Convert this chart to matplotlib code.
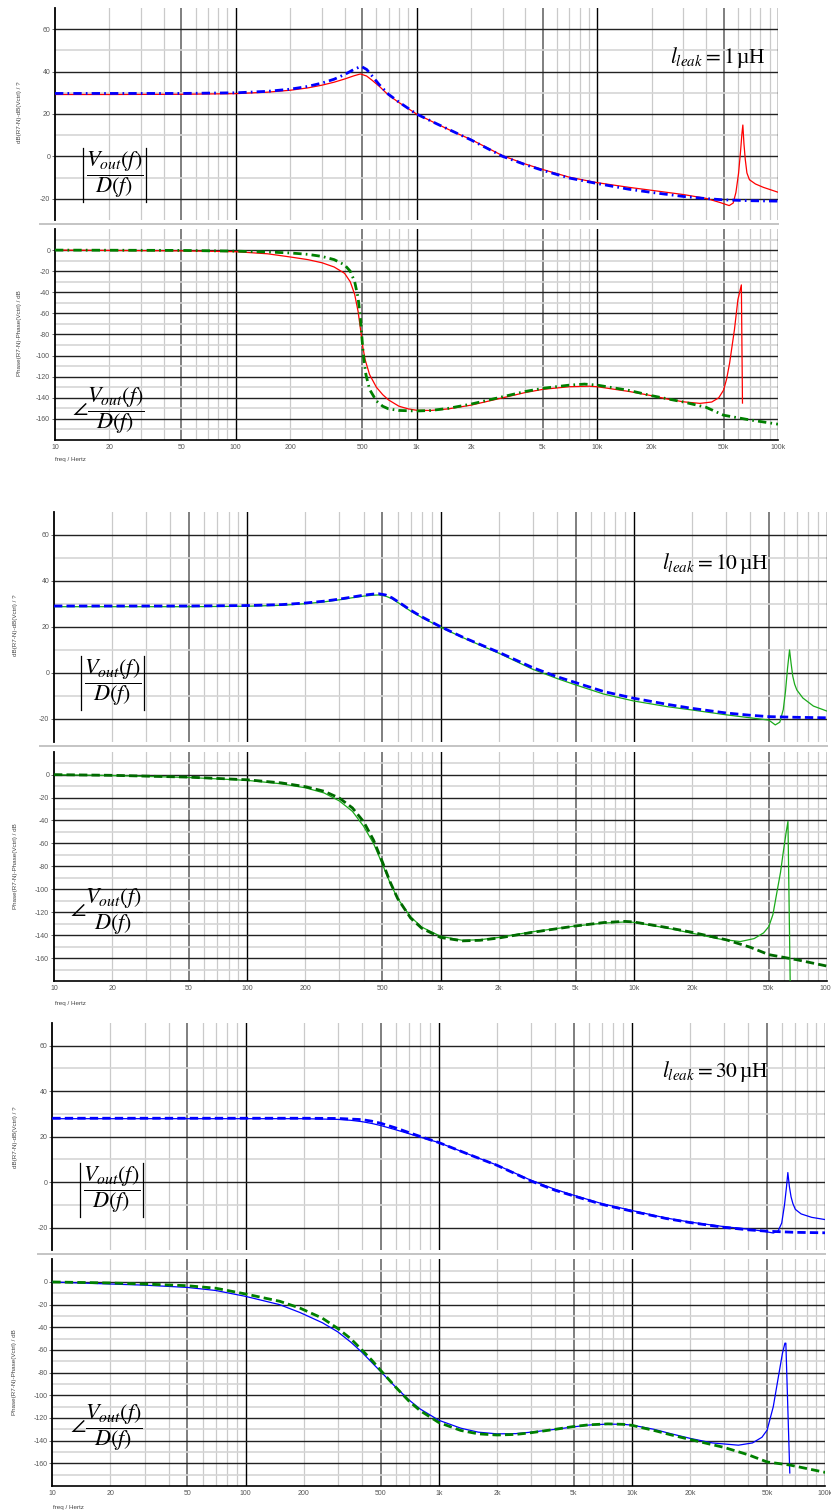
import matplotlib
matplotlib.use("Agg")
import matplotlib.pyplot as plt
from matplotlib.lines import Line2D

plt.rcParams['mathtext.fontset'] = 'stix'
plt.rcParams['font.family'] = ['Liberation Sans', 'DejaVu Sans']

# ---------------- data ----------------
# l_leak = 1 uH
g1_mag_meas_f = [10, 20, 50, 100, 150, 200, 250, 300, 350, 400, 450, 490, 530, 570, 620, 700, 800,
                 1000, 1300, 1600, 2000, 3000, 4000, 5000, 7000, 10000, 15000, 20000, 30000, 40000,
                 48000, 53700, 56500, 58500, 60500, 62000, 63200, 63900, 64800, 65900, 67300, 69500,
                 75000, 83000, 100000]
g1_mag_meas = [29.2, 29.2, 29.3, 29.6, 30.3, 31.2, 32.3, 33.6, 35.0, 36.5, 38.0, 38.9, 37.9, 35.8,
               33.2, 28.9, 25.4, 20.0, 15.3, 11.6, 8.0, 0.3, -3.6, -6.2, -9.8, -12.4, -14.6, -16.0,
               -18.0, -19.8, -21.8, -23.2, -22.0, -17.0, -8.0, 2.0, 11.0, 14.8, 6.0, -1.4, -7.8,
               -11.0, -13.0, -14.6, -16.9]
g1_mag_model_f = [10, 50, 100, 150, 200, 250, 300, 350, 400, 450, 494, 530, 570, 620, 700, 800, 1000,
                  1300, 1600, 2000, 3000, 4000, 5000, 7000, 10000, 15000, 20000, 30000, 40000, 50000,
                  70000, 100000]
g1_mag_model = [29.7, 29.7, 30.0, 30.7, 31.7, 33.0, 34.6, 36.4, 38.6, 41.0, 42.5, 41.0, 37.8, 34.0,
                29.3, 25.6, 20.0, 15.3, 11.7, 7.8, 0.0, -3.9, -6.6, -10.2, -12.8, -15.5, -17.0,
                -18.9, -19.9, -20.5, -20.9, -21.1]
g1_ph_meas_f = [10, 20, 50, 100, 150, 200, 250, 300, 350, 400, 430, 455, 475, 490, 505, 520, 550, 600,
                650, 700, 800, 900, 1000, 1200, 1500, 2000, 3000, 4000, 5000, 7000, 9000, 10000,
                15000, 20000, 25000, 30000, 37000, 43000, 47000, 50000, 52000, 54000, 57400, 60000,
                62700, 63600]
g1_ph_meas = [0, -0.3, -0.7, -1.5, -3.5, -6.5, -9, -12, -16, -22, -30, -42, -58, -75, -92, -104, -118,
              -130, -137, -142, -148, -150.5, -151.8, -152, -150.5, -147, -140, -135, -132, -129.5,
              -129, -129.5, -134, -138, -141.5, -143.8, -145.3, -144, -140, -132.7, -122, -107, -75.5,
              -47, -33, -145]
g1_ph_model_f = [10, 50, 100, 150, 200, 250, 300, 350, 400, 430, 455, 475, 490, 500, 510, 525, 550, 600,
                 650, 700, 800, 1000, 1200, 1500, 2000, 3000, 4000, 5000, 7000, 8500, 10000, 15000,
                 20000, 30000, 40000, 50000, 70000, 100000]
g1_ph_model = [0, -0.3, -1, -1.8, -2.7, -4, -6, -9, -14, -20, -30, -45, -65, -85, -102, -118, -132, -143,
               -148, -150.5, -152, -152.5, -152, -150, -146, -139, -134, -131, -128, -127, -128, -133,
               -138, -144, -149, -156.5, -161, -165]

# l_leak = 10 uH
g2_mag_meas_f = [10, 50, 100, 150, 200, 250, 300, 350, 400, 450, 480, 520, 560, 620, 700, 800, 1000,
                 1300, 1600, 2000, 3000, 4000, 5000, 7000, 10000, 15000, 20000, 30000, 40000, 50000,
                 54000, 57000, 59400, 61000, 62500, 64000, 65200, 66500, 68000, 69800, 75000, 85000,
                 100000]
g2_mag_meas = [28.7, 28.7, 28.9, 29.3, 30.0, 30.8, 31.7, 32.6, 33.3, 33.7, 33.8, 33.3, 32.2, 29.8,
               26.8, 24.0, 19.8, 15.3, 12.0, 8.5, 1.5, -2.5, -5.3, -9.3, -12.3, -14.8, -16.2, -18.3,
               -19.6, -20.6, -22.7, -21.5, -16, -8, 2, 9.9, 4, -1.5, -5, -7.5, -11, -14.5, -16.7]
g2_mag_model_f = [10, 50, 100, 150, 200, 250, 300, 350, 400, 450, 480, 520, 560, 620, 700, 800, 1000,
                  1300, 1600, 2000, 3000, 4000, 5000, 7000, 10000, 15000, 20000, 30000, 40000, 50000,
                  70000, 100000]
g2_mag_model = [29.0, 29.0, 29.2, 29.6, 30.3, 31.1, 32.0, 32.9, 33.7, 34.2, 34.3, 33.8, 32.6, 30.2,
                27.2, 24.3, 20.0, 15.5, 12.3, 8.9, 2.2, -1.7, -4.3, -8.2, -11.1, -13.8, -15.5, -17.5,
                -18.5, -19.1, -19.4, -19.6]
g2_ph_meas_f = [10, 20, 50, 100, 150, 200, 250, 300, 350, 400, 450, 500, 550, 600, 700, 800, 1000, 1300,
                1600, 2000, 3000, 5000, 7000, 9000, 10000, 15000, 20000, 28000, 35600, 42000, 47000,
                50000, 52500, 55000, 57500, 59300, 61500, 62800, 64600]
g2_ph_meas = [0, -0.8, -2.5, -5, -8, -11.5, -16, -23, -32, -45, -60, -78, -95, -108, -124, -133, -141,
              -144.5, -144, -142, -137, -132, -129.5, -128.5, -128.8, -134, -138.3, -143.5, -145.6,
              -143, -138, -132.5, -122, -103, -85, -68.4, -50, -40.8, -190]
g2_ph_model_f = [10, 20, 50, 100, 150, 200, 250, 300, 350, 400, 450, 500, 550, 600, 700, 800, 1000,
                 1300, 1600, 2000, 3000, 5000, 7000, 9000, 10000, 15000, 20000, 30000, 40000, 50000,
                 70000, 100000]
g2_ph_model = [0, -0.6, -2.2, -4.5, -7.2, -10.5, -14.5, -20.5, -29, -41, -57, -76, -94, -108, -125, -134,
               -142, -145, -144.5, -142.5, -137.5, -132, -129, -128, -128.5, -133.5, -137.5, -144,
               -150.5, -157, -161.5, -167]

# l_leak = 30 uH
g3_mag_meas_f = [10, 100, 200, 300, 350, 400, 450, 500, 600, 700, 800, 1000, 1300, 1600, 2000, 3000,
                 4000, 5000, 7000, 10000, 15000, 20000, 30000, 40000, 48000, 53800, 57000, 59500, 61500,
                 63000, 64000, 65200, 66500, 68000, 70000, 75000, 85000, 100000]
g3_mag_meas = [27.9, 27.9, 27.9, 27.6, 27.2, 26.6, 25.8, 24.9, 23.0, 21.3, 19.8, 17.4, 13.6, 10.6,
               7.5, 0.8, -3.2, -5.8, -9.5, -12.5, -15.8, -17.6, -19.6, -20.7, -21.6, -22.4, -21.5, -18,
               -10, -2, 4.2, -2, -6.5, -9.5, -12, -14, -15.5, -16.5]
g3_mag_model_f = [10, 100, 200, 300, 400, 450, 500, 600, 700, 800, 1000, 1500, 2000, 3000, 4000, 5000,
                  7000, 10000, 15000, 20000, 30000, 40000, 50000, 70000, 100000]
g3_mag_model = [28.1, 28.1, 28.1, 28.0, 27.5, 26.8, 25.9, 23.8, 21.8, 20.1, 17.4, 11.5, 7.4, 0.5, -3.6,
                -6.1, -9.8, -12.8, -16.0, -17.8, -19.9, -21.0, -21.6, -22.1, -22.3]
g3_ph_meas_f = [10, 20, 30, 50, 70, 100, 150, 191, 250, 300, 350, 400, 450, 500, 600, 700, 800, 1000,
                1300, 1600, 2000, 2500, 3000, 4000, 5000, 6000, 7500, 9000, 10000, 13000, 16000, 20000,
                26000, 35500, 42000, 47000, 50000, 53800, 57200, 60000, 61800, 62500, 65500]
g3_ph_meas = [0, -1.8, -2.8, -4.8, -7.5, -12.7, -20, -26.9, -36, -44, -53, -62, -71, -79, -93, -104,
              -112, -122, -129, -132.5, -134, -133.8, -132.5, -130, -127.8, -126.2, -125.4, -125.6,
              -126.3, -130, -134, -138, -142, -144, -142, -137, -130.7, -110, -83.5, -63, -54, -54,
              -168.5]
g3_ph_model_f = [10, 20, 30, 50, 70, 100, 150, 191, 250, 300, 350, 400, 450, 500, 600, 700, 800, 1000,
                 1300, 1600, 2000, 2500, 3000, 4000, 5000, 6000, 7500, 9000, 10000, 13000, 16000,
                 20000, 30000, 40000, 50000, 65500, 100000]
g3_ph_model = [0, -0.9, -1.8, -3.3, -5.5, -10.6, -17, -23, -32, -41, -50, -60, -69, -78, -93, -105,
               -113.5, -124, -131, -134, -135, -134.5, -133, -130, -127.5, -126, -125.2, -125.6, -126.5,
               -131, -135, -139, -146, -152.5, -158.8, -161.5, -168]

leak_labels = [r'$l_{leak}=1\,$µH', r'$l_{leak}=10\,$µH', r'$l_{leak}=30\,$µH']

mag_ticks = [-20, 0, 20, 40, 60]
ph_ticks = [0, -20, -40, -60, -80, -100, -120, -140, -160]
x_ticks = [10, 20, 50, 100, 200, 500, 1e3, 2e3, 5e3, 1e4, 2e4, 5e4, 1e5]
x_ticklabels = ['10', '20', '50', '100', '200', '500', '1k', '2k', '5k', '10k', '20k', '50k', '100k']

# ---------------- layout (pixels) ----------------
W, H = 831, 1512
fig = plt.figure(figsize=(W / 100, H / 100), dpi=100)


def box(l, t, r, b):
    return [l / W, 1 - b / H, (r - l) / W, (b - t) / H]


def fx(x):
    return x / W


def fy(y):
    return 1 - y / H


def style_axes(ax, ylim, yticks, yminor, is_phase):
    ax.set_xscale('log')
    ax.set_xlim(10, 1e5)
    ax.set_ylim(*ylim)
    ax.set_facecolor('white')
    # vertical grid
    for d in [10, 100, 1000, 10000]:
        for m in range(2, 10):
            if m == 5:
                ax.axvline(m * d, color='#6a6a6a', lw=1.2, zorder=0)
            else:
                ax.axvline(m * d, color='#cacaca', lw=0.9, zorder=0)
    for d in [100, 1000, 10000, 100000]:
        ax.axvline(d, color='black', lw=1.0, zorder=0.5)
    # horizontal grid
    for v in yminor:
        ax.axhline(v, color='#d6d6d6', lw=1.2, zorder=0)
    for v in yticks:
        ax.axhline(v, color='#222222', lw=1.0, zorder=0.5)
    for s in ['top', 'right']:
        ax.spines[s].set_visible(False)
    ax.spines['left'].set_linewidth(1.3)
    ax.spines['left'].set_color('black')
    if is_phase:
        ax.spines['bottom'].set_linewidth(1.2)
        ax.spines['bottom'].set_color('black')
        ax.set_xticks(x_ticks)
        ax.set_xticklabels(x_ticklabels)
    else:
        ax.spines['bottom'].set_visible(False)
        ax.set_xticks([])
    ax.minorticks_off()
    ax.set_yticks(yticks)
    ax.set_yticklabels([str(v) for v in yticks])
    ax.tick_params(axis='both', labelsize=5, colors='#555555', length=2.5, width=0.6, pad=1)
    if is_phase:
        ax.tick_params(axis='x', length=0, pad=3)


groups = [
    dict(mag=(55, 8, 778, 220), ph=(55, 229, 778, 440), sep=(40, 778, 224),
         mag_meas=(g1_mag_meas_f, g1_mag_meas), mag_model=(g1_mag_model_f, g1_mag_model),
         ph_meas=(g1_ph_meas_f, g1_ph_meas), ph_model=(g1_ph_model_f, g1_ph_model),
         c_meas='#ff0000', c_mag_model='#0000ff', c_ph_model='#008000',
         dash_mag=(3, 1.5, 0.6, 1.5), dash_ph=(3, 1.5, 0.6, 1.5),
         leak=(718, 57), absl=(114.5, 175), bars=(83, 146, 148, 202), angl=(108, 411),
         ylab_mag=(20, 112), ylab_ph=(20, 333), xlab=(55, 460)),
    dict(mag=(54, 511.7, 827, 741.7), ph=(54, 751.7, 827, 981), sep=(40, 827, 746),
         mag_meas=(g2_mag_meas_f, g2_mag_meas), mag_model=(g2_mag_model_f, g2_mag_model),
         ph_meas=(g2_ph_meas_f, g2_ph_meas), ph_model=(g2_ph_model_f, g2_ph_model),
         c_meas='#1aaa1a', c_mag_model='#0000ff', c_ph_model='#006a00',
         dash_mag=(3, 1.5), dash_ph=(3, 1.5),
         leak=(715, 563), absl=(112.5, 683), bars=(80.7, 144, 655.7, 710), angl=(106, 912),
         ylab_mag=(16, 625), ylab_ph=(16, 866), xlab=(55, 1003)),
    dict(mag=(52.3, 1023, 825.3, 1250.3), ph=(52.3, 1259.3, 825.3, 1486), sep=(38, 825.3, 1254),
         mag_meas=(g3_mag_meas_f, g3_mag_meas), mag_model=(g3_mag_model_f, g3_mag_model),
         ph_meas=(g3_ph_meas_f, g3_ph_meas), ph_model=(g3_ph_model_f, g3_ph_model),
         c_meas='#0000ff', c_mag_model='#0000ff', c_ph_model='#008000',
         dash_mag=(3, 1.5), dash_ph=(3, 1.5),
         leak=(715, 1072), absl=(112, 1190), bars=(80, 143.3, 1163, 1217), angl=(106, 1428),
         ylab_mag=(15, 1137), ylab_ph=(15, 1372), xlab=(53, 1507)),
]

for i, g in enumerate(groups):
    axm = fig.add_axes(box(*g['mag']))
    style_axes(axm, (-30, 70), mag_ticks, [-10, 10, 30, 50], False)
    axm.plot(g['mag_meas'][0], g['mag_meas'][1], color=g['c_meas'], lw=0.9, zorder=3)
    axm.plot(g['mag_model'][0], g['mag_model'][1], color=g['c_mag_model'], lw=2.0,
             dashes=g['dash_mag'], zorder=4)

    axp = fig.add_axes(box(*g['ph']))
    style_axes(axp, (-180, 20), ph_ticks, [10, -10, -30, -50, -70, -90, -110, -130, -150, -170], True)
    axp.plot(g['ph_meas'][0], g['ph_meas'][1], color=g['c_meas'], lw=0.9, zorder=3)
    axp.plot(g['ph_model'][0], g['ph_model'][1], color=g['c_ph_model'], lw=2.0,
             dashes=g['dash_ph'], zorder=4)

    # separator between the two panels
    x0, x1, ys = g['sep']
    fig.add_artist(Line2D([fx(x0), fx(x1)], [fy(ys), fy(ys)], color='#c4c4c4', lw=1.4))

    fig.text(fx(g['leak'][0]), fy(g['leak'][1]), leak_labels[i], fontsize=15.5,
             family=['Liberation Serif', 'DejaVu Serif'], ha='center', va='center')
    # |Vout/D| : thin absolute-value bars around the fraction
    fig.text(fx(g['absl'][0]), fy(g['absl'][1]),
             r'$\dfrac{V_{out}\left(f\right)}{D\left(f\right)}$',
             fontsize=16, ha='center', va='center')
    bl, br, bt, bb = g['bars']
    for bx in (bl, br):
        fig.add_artist(Line2D([fx(bx), fx(bx)], [fy(bt), fy(bb)], color='black', lw=0.9))
    fig.text(fx(g['angl'][0]), fy(g['angl'][1]),
             r'$\angle\dfrac{V_{out}\left(f\right)}{D\left(f\right)}$',
             fontsize=16, ha='center', va='center')
    fig.text(fx(g['ylab_mag'][0]), fy(g['ylab_mag'][1]), 'dB(R7-N)-dB(Vctrl) / ?',
             rotation=90, fontsize=4.5, color='#444444', ha='center', va='center')
    fig.text(fx(g['ylab_ph'][0]), fy(g['ylab_ph'][1]), 'Phase(R7-N)-Phase(Vctrl) / dB',
             rotation=90, fontsize=4.5, color='#444444', ha='center', va='center')
    fig.text(fx(g['xlab'][0]), fy(g['xlab'][1]), 'freq / Hertz',
             fontsize=4.5, color='#444444', ha='left', va='center')

fig.savefig('out.png', dpi=100)
